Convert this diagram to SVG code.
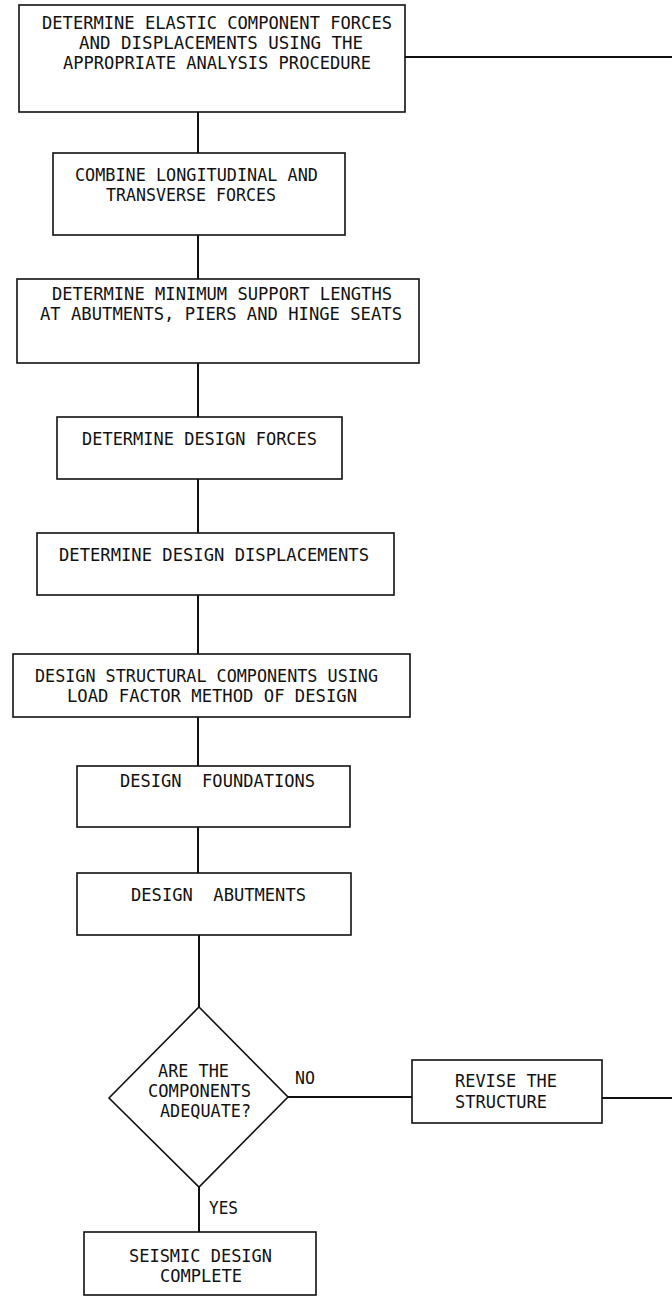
<svg xmlns="http://www.w3.org/2000/svg" width="672" height="1297" viewBox="0 0 672 1297">
  <style>
    .box { fill: #ffffff; stroke: #111111; stroke-width: 1.6; }
    .wire { fill: none; stroke: #111111; stroke-width: 2; }
    .lbl { font-family: "DejaVu Sans Mono", "Liberation Mono", monospace; font-size: 18px; fill: #111111; white-space: pre; }
  </style>
  <rect width="672" height="1297" fill="#ffffff"/>

  <!-- connectors -->
  <g id="connectors">
    <line class="wire" x1="405" y1="57" x2="672" y2="57"/>
    <line class="wire" x1="198" y1="112" x2="198" y2="153"/>
    <line class="wire" x1="198" y1="235" x2="198" y2="279"/>
    <line class="wire" x1="198" y1="363" x2="198" y2="417"/>
    <line class="wire" x1="198" y1="479" x2="198" y2="533"/>
    <line class="wire" x1="198" y1="595" x2="198" y2="654"/>
    <line class="wire" x1="198" y1="717" x2="198" y2="766"/>
    <line class="wire" x1="198" y1="827" x2="198" y2="873"/>
    <line class="wire" x1="199" y1="935" x2="199" y2="1007"/>
    <line class="wire" x1="288" y1="1097" x2="412" y2="1097"/>
    <line class="wire" x1="602" y1="1098" x2="672" y2="1098"/>
    <line class="wire" x1="199" y1="1187" x2="199" y2="1232"/>
    <text class="lbl" x="295" y="1084" textLength="20" lengthAdjust="spacingAndGlyphs">NO</text>
    <text class="lbl" x="209" y="1214" textLength="29" lengthAdjust="spacingAndGlyphs">YES</text>
  </g>

  <g id="elastic-forces">
    <rect class="box" x="19" y="5" width="386" height="107"/>
    <text class="lbl" x="42" y="29" textLength="350" lengthAdjust="spacingAndGlyphs">DETERMINE ELASTIC COMPONENT FORCES</text>
    <text class="lbl" x="79" y="49" textLength="284" lengthAdjust="spacingAndGlyphs">AND DISPLACEMENTS USING THE</text>
    <text class="lbl" x="63" y="69" textLength="308" lengthAdjust="spacingAndGlyphs">APPROPRIATE ANALYSIS PROCEDURE</text>
  </g>

  <g id="combine-forces">
    <rect class="box" x="53" y="153" width="292" height="82"/>
    <text class="lbl" x="75" y="181" textLength="243" lengthAdjust="spacingAndGlyphs">COMBINE LONGITUDINAL AND</text>
    <text class="lbl" x="106" y="201" textLength="170" lengthAdjust="spacingAndGlyphs">TRANSVERSE FORCES</text>
  </g>

  <g id="support-lengths">
    <rect class="box" x="17" y="279" width="402" height="84"/>
    <text class="lbl" x="52" y="300" textLength="340" lengthAdjust="spacingAndGlyphs">DETERMINE MINIMUM SUPPORT LENGTHS</text>
    <text class="lbl" x="40" y="320" textLength="362" lengthAdjust="spacingAndGlyphs">AT ABUTMENTS, PIERS AND HINGE SEATS</text>
  </g>

  <g id="design-forces">
    <rect class="box" x="57" y="417" width="285" height="62"/>
    <text class="lbl" x="82" y="445" textLength="235" lengthAdjust="spacingAndGlyphs">DETERMINE DESIGN FORCES</text>
  </g>

  <g id="design-displacements">
    <rect class="box" x="37" y="533" width="357" height="62"/>
    <text class="lbl" x="59" y="561" textLength="310" lengthAdjust="spacingAndGlyphs">DETERMINE DESIGN DISPLACEMENTS</text>
  </g>

  <g id="structural-components">
    <rect class="box" x="13" y="654" width="397" height="63"/>
    <text class="lbl" x="35" y="682" textLength="343" lengthAdjust="spacingAndGlyphs">DESIGN STRUCTURAL COMPONENTS USING</text>
    <text class="lbl" x="67" y="702" textLength="290" lengthAdjust="spacingAndGlyphs">LOAD FACTOR METHOD OF DESIGN</text>
  </g>

  <g id="foundations">
    <rect class="box" x="77" y="766" width="273" height="61"/>
    <text class="lbl" x="120" y="787" textLength="195" lengthAdjust="spacingAndGlyphs">DESIGN  FOUNDATIONS</text>
  </g>

  <g id="abutments">
    <rect class="box" x="77" y="873" width="274" height="62"/>
    <text class="lbl" x="131" y="901" textLength="175" lengthAdjust="spacingAndGlyphs">DESIGN  ABUTMENTS</text>
  </g>

  <g id="adequacy-check">
    <polygon class="box" points="199,1007 288,1097 199,1187 109,1098"/>
    <text class="lbl" x="158" y="1077" textLength="71" lengthAdjust="spacingAndGlyphs">ARE THE</text>
    <text class="lbl" x="148" y="1097" textLength="103" lengthAdjust="spacingAndGlyphs">COMPONENTS</text>
    <text class="lbl" x="160" y="1117" textLength="91" lengthAdjust="spacingAndGlyphs">ADEQUATE?</text>
  </g>

  <g id="revise-structure">
    <rect class="box" x="412" y="1060" width="190" height="63"/>
    <text class="lbl" x="455" y="1087" textLength="102" lengthAdjust="spacingAndGlyphs">REVISE THE</text>
    <text class="lbl" x="455" y="1108" textLength="92" lengthAdjust="spacingAndGlyphs">STRUCTURE</text>
  </g>

  <g id="design-complete">
    <rect class="box" x="84" y="1232" width="232" height="63"/>
    <text class="lbl" x="129" y="1262" textLength="143" lengthAdjust="spacingAndGlyphs">SEISMIC DESIGN</text>
    <text class="lbl" x="160" y="1282" textLength="82" lengthAdjust="spacingAndGlyphs">COMPLETE</text>
  </g>
</svg>
